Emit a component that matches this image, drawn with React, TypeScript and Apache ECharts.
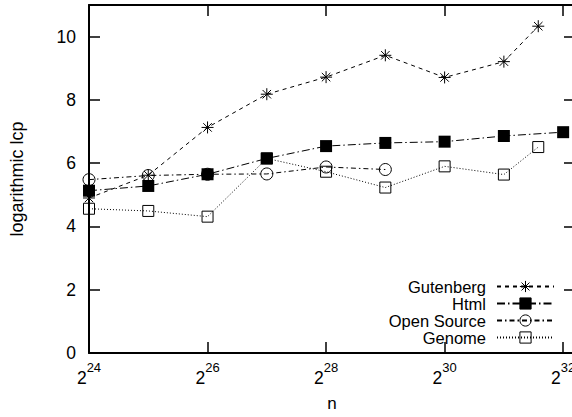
import React, { useEffect, useRef } from 'react';
import * as echarts from 'echarts';

// x values are log2(n)
const gutenbergX = [24, 25, 26, 27, 28, 29, 30, 31, 31.58];
const gutenbergY = [4.9, 5.62, 7.13, 8.18, 8.72, 9.41, 8.71, 9.21, 10.33];
const htmlX = [24, 25, 26, 27, 28, 29, 30, 31, 32];
const htmlY = [5.13, 5.28, 5.65, 6.15, 6.54, 6.64, 6.68, 6.86, 6.98];
const openSourceX = [24, 25, 26, 27, 28, 29];
const openSourceY = [5.48, 5.61, 5.65, 5.66, 5.88, 5.8];
const genomeX = [24, 25, 26, 27, 28, 29, 30, 31, 31.58];
const genomeY = [4.56, 4.49, 4.31, 6.15, 5.73, 5.23, 5.9, 5.64, 6.51];

const seriesNames = ['Gutenberg', 'Html', 'Open Source', 'Genome'];
const xAxisTitle = 'n';
const yAxisTitle = 'logarithmic lcp';

const FONT = "'Liberation Sans', Arial, Helvetica, sans-serif";
const zip = (xs: number[], ys: number[]) => xs.map((x, i) => [x, ys[i]]);

const STAR = 'path://M6 0L6 12M0 6L12 6M1.76 1.76L10.24 10.24M1.76 10.24L10.24 1.76';

export default function App() {
  const ref = useRef<HTMLDivElement>(null);
  useEffect(() => {
    const chart = echarts.init(ref.current!, null, { renderer: 'svg' });
    const axisLine = { show: true, onZero: false, lineStyle: { color: '#000', width: 2 } };
    const axisTick = { show: true, inside: true, length: 11, lineStyle: { color: '#000', width: 1.5 } };
    const xBase: any = {
      type: 'value', min: 24, max: 32.2, interval: 2,
      axisLine, axisTick, splitLine: { show: false },
    };
    const yBase: any = {
      type: 'value', min: 0, max: 11, interval: 2,
      axisLine, axisTick, splitLine: { show: false },
    };
    const option: any = {
      animation: false,
      backgroundColor: '#fff',
      textStyle: { fontFamily: FONT },
      grid: { left: 84, right: 5, top: 5, bottom: 55, containLabel: false },
      xAxis: [
        {
          ...xBase, position: 'bottom',
          name: xAxisTitle, nameLocation: 'middle', nameGap: 42,
          nameTextStyle: { fontFamily: FONT, fontSize: 17, color: '#000' },
          axisLabel: {
            margin: 8,
            formatter: (v: number) => (Math.abs(v - Math.round(v)) < 1e-6 && Math.round(v) % 2 === 0 ? `{b|2}{s|${v}}` : ''),
            rich: {
              b: { fontFamily: FONT, fontSize: 17.5, color: '#000', verticalAlign: 'bottom', lineHeight: 26 },
              s: { fontFamily: FONT, fontSize: 13, color: '#000', verticalAlign: 'top', lineHeight: 14 },
            },
          },
        },
        { ...xBase, position: 'top', axisLabel: { show: false } },
      ],
      yAxis: [
        {
          ...yBase, position: 'left',
          name: yAxisTitle, nameLocation: 'middle', nameGap: 63,
          nameTextStyle: { fontFamily: FONT, fontSize: 18, color: '#000' },
          axisLabel: {
            margin: 13, fontFamily: FONT, fontSize: 17.5, color: '#000',
            formatter: (v: number) => (v % 2 === 0 ? String(v) : ''),
          },
        },
        { ...yBase, position: 'right', axisLabel: { show: false } },
      ],
      legend: {
        orient: 'vertical', right: 25, top: 278, align: 'right', padding: 0,
        itemWidth: 57, itemHeight: 14, itemGap: 0,
        data: seriesNames,
        textStyle: { fontFamily: FONT, fontSize: 16.5, color: '#000', padding: [0, 6, 0, 0] },
        itemStyle: { borderWidth: 1 },
      },
      series: [
        {
          name: seriesNames[0], type: 'line', data: zip(gutenbergX, gutenbergY),
          symbol: STAR, symbolSize: 12,
          lineStyle: { color: '#000', width: 1, type: [4, 4] },
          itemStyle: { color: 'transparent', borderColor: '#000', borderWidth: 1 },
        },
        {
          name: seriesNames[1], type: 'line', data: zip(htmlX, htmlY),
          symbol: 'rect', symbolSize: 12,
          lineStyle: { color: '#000', width: 1, type: [8, 3, 1.5, 3] },
          itemStyle: { color: '#000', borderColor: '#000', borderWidth: 0 },
        },
        {
          name: seriesNames[2], type: 'line', data: zip(openSourceX, openSourceY),
          symbol: 'circle', symbolSize: 12,
          lineStyle: { color: '#000', width: 1, type: [5, 3, 1.5, 3] },
          itemStyle: { color: 'transparent', borderColor: '#000', borderWidth: 1 },
        },
        {
          name: seriesNames[3], type: 'line', data: zip(genomeX, genomeY),
          symbol: 'rect', symbolSize: 11,
          lineStyle: { color: '#000', width: 1, type: [1, 2] },
          itemStyle: { color: 'transparent', borderColor: '#000', borderWidth: 1 },
        },
      ],
    };
    chart.setOption(option);
    return () => chart.dispose();
  }, []);
  return (
    <div style={{ position: 'fixed', left: 0, top: 0, width: 572, height: 417, overflow: 'hidden', background: '#fff' }}>
      <div ref={ref} style={{ width: 580, height: 417 }} />
    </div>
  );
}
